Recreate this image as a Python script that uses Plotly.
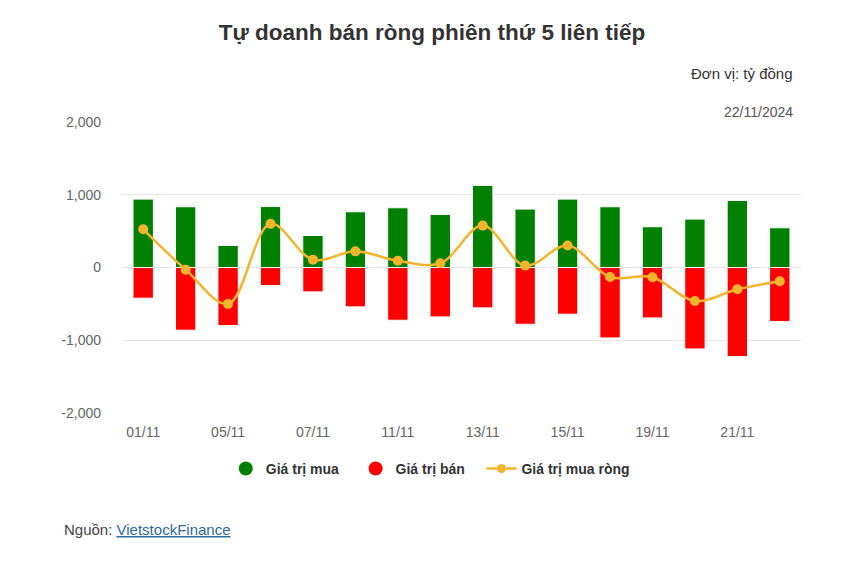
import plotly.graph_objects as go

categories = ["01/11", "04/11", "05/11", "06/11", "07/11", "08/11", "11/11", "12/11",
              "13/11", "14/11", "15/11", "18/11", "19/11", "20/11", "21/11", "22/11"]
buy_values = [940, 835, 303, 838, 440, 766, 821, 729, 1128, 803, 940, 835, 560, 665, 922, 546]
sell_values = [-422, -862, -798, -248, -335, -541, -725, -679, -555, -780, -642, -968, -693, -1119, -1225, -743]
net_values = [525, -30, -500, 600, 108, 222, 92, 58, 576, 26, 302, -130, -133, -460, -300, -188]
x_tick_labels = ["01/11", "05/11", "07/11", "11/11", "13/11", "15/11", "19/11", "21/11"]
y_tick_values = [-2000, -1000, 0, 1000, 2000]
y_tick_labels = ["-2,000", "-1,000", "0", "1,000", "2,000"]

FONT = "Liberation Sans, Arial, sans-serif"
GREEN = "#008000"
RED = "#ff0000"
GOLD = "#f4b52c"
PAD = "\u00a0\u00a0\u00a0"

fig = go.Figure()
fig.add_trace(go.Bar(x=categories, y=buy_values, name="Giá trị mua",
                     marker=dict(color=GREEN, line=dict(color="white", width=1)),
                     showlegend=False))
fig.add_trace(go.Bar(x=categories, y=sell_values, name="Giá trị bán",
                     marker=dict(color=RED, line=dict(color="white", width=1)),
                     showlegend=False))
fig.add_trace(go.Scatter(x=categories, y=net_values, name="Giá trị mua ròng",
                         mode="lines+markers", line=dict(color=GOLD, width=2.5, shape="spline"),
                         marker=dict(color=GOLD, size=10), showlegend=False))
# legend-only entries (circle symbols)
fig.add_trace(go.Scatter(x=[None], y=[None], name="<b>Giá trị mua</b>" + PAD, mode="markers",
                         marker=dict(color=GREEN, size=14, symbol="circle")))
fig.add_trace(go.Scatter(x=[None], y=[None], name="<b>Giá trị bán</b>" + PAD, mode="markers",
                         marker=dict(color=RED, size=14, symbol="circle")))
fig.add_trace(go.Scatter(x=[None], y=[None], name="<b>Giá trị mua ròng</b>", mode="lines+markers",
                         line=dict(color=GOLD, width=2.5), marker=dict(color=GOLD, size=9)))

fig.update_layout(
    width=863, height=565,
    paper_bgcolor="white", plot_bgcolor="white",
    margin=dict(l=114, r=70, t=114, b=160),
    barmode="relative", bargap=0.52,
    font=dict(family=FONT, color="#333333"),
    title=dict(text="<b>Tự doanh bán ròng phiên thứ 5 liên tiếp</b>",
               x=(432 - 8) / 863, xanchor="center", y=1 - 24 / 565, yanchor="middle",
               font=dict(size=22.5, color="#333333", family=FONT)),
    xaxis=dict(type="category", categoryorder="array", categoryarray=categories,
               range=[-0.5, len(categories) - 0.5],
               tickmode="array", tickvals=x_tick_labels, ticktext=x_tick_labels,
               tickfont=dict(size=14, color="#666666"), showgrid=False, showline=False,
               ticks="", ticklabelstandoff=9, fixedrange=True),
    yaxis=dict(range=[-2000, 2000], tickmode="array", tickvals=y_tick_values,
               ticktext=y_tick_labels, tickfont=dict(size=14, color="#666666"),
               showgrid=True, gridcolor="#e6e6e6", gridwidth=1,
               zeroline=True, zerolinecolor="#e6e6e6", zerolinewidth=1,
               showline=False, ticks="", ticklabelstandoff=20),
    legend=dict(orientation="h", x=0.454, xanchor="center", y=-0.192, yanchor="middle",
                font=dict(size=14, color="#333333", family=FONT),
                itemsizing="trace", traceorder="normal", itemwidth=30),
    annotations=[
        dict(text="Đơn vị: tỷ đồng", xref="paper", yref="paper", x=0.991, y=1.168,
             xanchor="right", yanchor="middle", showarrow=False,
             font=dict(size=15, color="#333333", family=FONT)),
        dict(text="22/11/2024", xref="paper", yref="paper", x=0.991, y=1.034,
             xanchor="right", yanchor="middle", showarrow=False,
             font=dict(size=14, color="#555555", family=FONT)),
        dict(text="Nguồn: <span style='color:#2f6aa0'><u>VietstockFinance</u></span>",
             xref="paper", yref="paper", x=-0.088, y=-0.399,
             xanchor="left", yanchor="middle", showarrow=False,
             font=dict(size=15, color="#444444", family=FONT)),
    ],
)

fig.write_html("out.html")
